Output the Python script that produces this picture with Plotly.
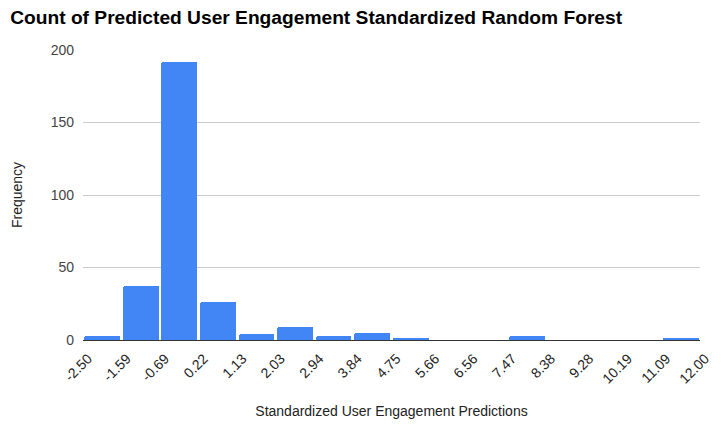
import plotly.graph_objects as go

bin_edges = [-2.50, -1.59, -0.69, 0.22, 1.13, 2.03, 2.94, 3.84, 4.75, 5.66,
             6.56, 7.47, 8.38, 9.28, 10.19, 11.09, 12.00]
counts = [3, 37, 192, 26, 4, 9, 3, 5, 1, 0, 0, 3, 0, 0, 0, 1]
tick_labels = ["-2.50", "-1.59", "-0.69", "0.22", "1.13", "2.03", "2.94", "3.84",
               "4.75", "5.66", "6.56", "7.47", "8.38", "9.28", "10.19", "11.09", "12.00"]

centers = [(bin_edges[i] + bin_edges[i + 1]) / 2 for i in range(len(counts))]
widths = [(bin_edges[i + 1] - bin_edges[i]) * 0.93 for i in range(len(counts))]

FONT = "Liberation Sans, Arial, sans-serif"

fig = go.Figure(go.Bar(
    x=centers, y=counts, width=widths,
    marker=dict(color="#4285F4", line=dict(width=0), cornerradius=2),
    hoverinfo="x+y",
))

fig.update_layout(
    width=721, height=425,
    margin=dict(l=75, r=29, t=42, b=93),
    paper_bgcolor="white", plot_bgcolor="white",
    font=dict(family=FONT, size=14, color="#444"),
    title=dict(text="<b>Count of Predicted User Engagement Standardized Random Forest</b>",
               x=0.003, xanchor="left", y=0.979, yanchor="middle",
               font=dict(family=FONT, size=19.2, color="#000")),
    bargap=0,
    showlegend=False,
)
fig.update_xaxes(
    range=[bin_edges[0], bin_edges[-1]], automargin=False,
    tickmode="array", tickvals=bin_edges, ticktext=tick_labels,
    tickangle=-45, showgrid=False, zeroline=False,
    showline=True, linecolor="#333", linewidth=1,
    tickfont=dict(size=14, color="#222"),
    ticklabelshift=5, ticklabelstandoff=4,
    title=dict(text="Standardized User Engagement Predictions", font=dict(size=14, color="#222"), standoff=20),
)
fig.update_yaxes(
    range=[0, 200], tickvals=[0, 50, 100, 150, 200], automargin=False,
    showgrid=True, gridcolor="#cccccc", zeroline=False,
    tickfont=dict(size=14, color="#444"), ticklabelstandoff=8,
    title=dict(text="Frequency", font=dict(size=14, color="#222"), standoff=24),
)

fig.write_html("out.html")
